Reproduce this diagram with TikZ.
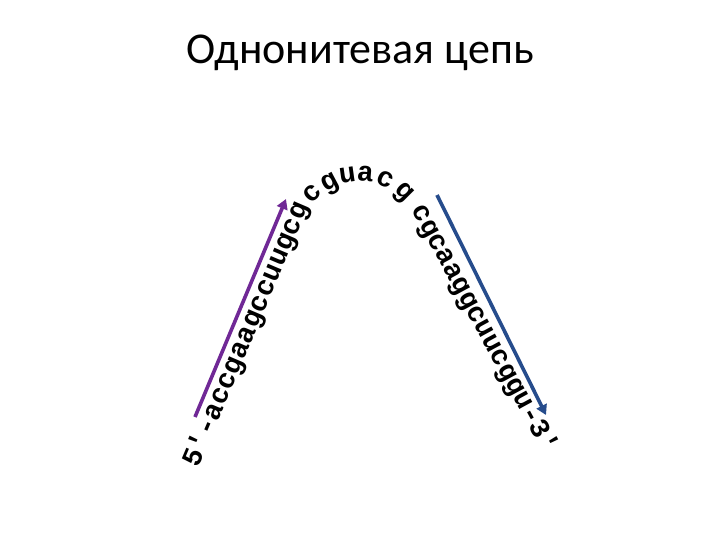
\documentclass[tikz,border=0pt]{standalone}
\usepackage{fontspec}
\setmainfont{Carlito}
\newfontfamily\seqfont{Liberation Mono}
\usetikzlibrary{arrows.meta}
\definecolor{strandpurple}{RGB}{112,40,150}
\definecolor{strandblue}{RGB}{38,76,140}
\tikzset{
  base letter/.style={inner sep=0pt, text height=1ex, text depth=0pt, anchor=center,
    font=\seqfont\bfseries\fontsize{28}{28}\selectfont},
  dir arrow/.style={line width=3.6pt, -{Triangle[length=10pt,width=11pt]}},
  title text/.style={font=\fontsize{44}{44}\selectfont, anchor=base, inner sep=0pt}
}
\begin{document}
\begin{tikzpicture}[x=1pt,y=-1pt]
\useasboundingbox (0,0) rectangle (720,540);
\fill[white] (0,0) rectangle (720,540);
\node[title text] (title) at (360,64) {Однонитевая цепь};
% left leg
\foreach \ch [count=\i from 0] in {5,\textquotesingle,-,a,c,c,g,a,a,g,c,c,u,u,g,c,g}{
  \node[base letter, rotate=67] (L\i) at ({199+6.5*\i},{460-15.44*\i}) {\ch};
}
% top arc
\foreach \ch/\x/\y/\r [count=\i] in {c/316/197/45, g/332/186/28, u/348/180/8, a/365/179/-5, c/383/184/-25, g/401/195/-45}{
  \node[base letter, rotate=\r] (T\i) at (\x,\y) {\ch};
}
% right leg
\foreach \ch [count=\i from 0] in {c,g,c,a,a,g,g,c,u,u,c,g,g,u,-,3,\textquotesingle}{
  \node[base letter, rotate=-61.5] (R\i) at ({417+7.8*\i},{216+14.4*\i}) {\ch};
}
\coordinate (pa) at (195,417);
\coordinate (pb) at (286,199);
\coordinate (ba) at (437,195);
\coordinate (bb) at (546,415);
\draw[dir arrow, strandpurple] (pa) -- (pb);
\draw[dir arrow, strandblue] (ba) -- (bb);
\end{tikzpicture}
\end{document}
